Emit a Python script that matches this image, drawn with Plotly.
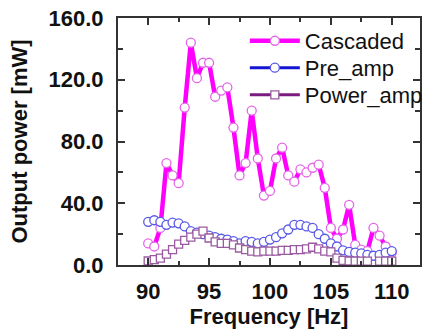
import plotly.graph_objects as go

freq = [90 + 0.5 * i for i in range(41)]

cascaded = [14, 12, 24, 66, 58, 53, 102, 144, 121, 131, 131, 109, 113, 115, 89, 58, 66, 100,
            69, 45, 48, 69, 76, 58, 54, 62, 60, 63, 65, 50, 24, 17, 23, 39, 13, 10, 9, 24,
            19, 12, 8]
pre_amp = [28, 29, 28, 26, 27.5, 27, 25, 22, 21, 20, 19, 18, 17, 16.5, 15.5, 14, 15.5, 15,
           14, 15, 16.5, 18, 20.5, 23, 26, 26, 25, 24, 20, 17, 14, 12, 9.5, 8.5, 8, 7.5,
           6.5, 6, 6.5, 8, 9]
power_amp = [2.6, 3.5, 4.5, 7, 10, 13.5, 16, 18, 20, 22, 17.5, 15, 14, 14, 13, 11, 10, 9,
             8.5, 9, 9, 9, 9.5, 9.5, 10, 10, 10.5, 11.5, 10.5, 9, 8.5, 4.5, 3, 2.6, 2.5,
             2.5, 2.5, None, 2.5, 2.5, 2.5]

x_ticks = [90, 95, 100, 105, 110]
y_ticks = [0, 40, 80, 120, 160]

FONT = "Arial, Liberation Sans, sans-serif"

fig = go.Figure()
fig.add_trace(go.Scatter(
    x=freq, y=cascaded, name="Cascaded", mode="lines+markers", legend="legend",
    line=dict(color="#ff00ff", width=4.5),
    marker=dict(symbol="circle", size=9, color="white",
                line=dict(color="#e466e8", width=1.3)),
))
fig.add_trace(go.Scatter(
    x=freq, y=pre_amp, name="Pre_amp", mode="lines+markers", legend="legend2",
    line=dict(color="#1414d2", width=3),
    marker=dict(symbol="circle", size=9, color="white",
                line=dict(color="#5858e8", width=1.3)),
))
fig.add_trace(go.Scatter(
    x=freq, y=power_amp, name="Power_amp", mode="lines+markers", legend="legend3",
    line=dict(color="#7a1a7e", width=3),
    marker=dict(symbol="square", size=8, color="white",
                line=dict(color="#9a5aa0", width=1.3)),
))

axis_common = dict(
    showline=True, linecolor="#333333", linewidth=2, mirror="ticks",
    ticks="inside", ticklen=7, tickwidth=1.5, tickcolor="#333333",
    showgrid=False, zeroline=False,
    tickfont=dict(family=FONT, size=22, color="#111111", weight="bold"),
)

fig.update_xaxes(
    range=[87.52, 112.32], tickvals=x_ticks,
    ticktext=[str(v) for v in x_ticks],
    minor=dict(dtick=2.5, ticks="inside", ticklen=4, tickcolor="#333333", tickwidth=1.5),
    title=dict(text="Frequency [Hz]", font=dict(family=FONT, size=22, color="#111111", weight="bold"),
               standoff=1),
    ticklabelstandoff=6,
    **axis_common,
)
fig.update_yaxes(
    range=[0, 160], tickvals=y_ticks,
    ticktext=[f"{v:.1f}" for v in y_ticks],
    minor=dict(dtick=20, ticks="inside", ticklen=5, tickcolor="#333333", tickwidth=1.5),
    title=dict(text="Output power [mW]", font=dict(family=FONT, size=22, color="#111111", weight="bold"),
               standoff=15),
    ticklabelstandoff=8,
    **axis_common,
)

leg_common = dict(x=0.42, xanchor="left", yanchor="middle",
                  bgcolor="rgba(0,0,0,0)", borderwidth=0,
                  font=dict(family=FONT, size=22, color="#111111"), itemwidth=50)

fig.update_layout(
    width=428, height=333,
    margin=dict(l=118, r=0, t=18, b=68),
    paper_bgcolor="white", plot_bgcolor="white",
    showlegend=True,
    legend=dict(y=0.907, **leg_common),
    legend2=dict(y=0.798, **leg_common),
    legend3=dict(y=0.688, **leg_common),
)

fig.write_html("out.html")
